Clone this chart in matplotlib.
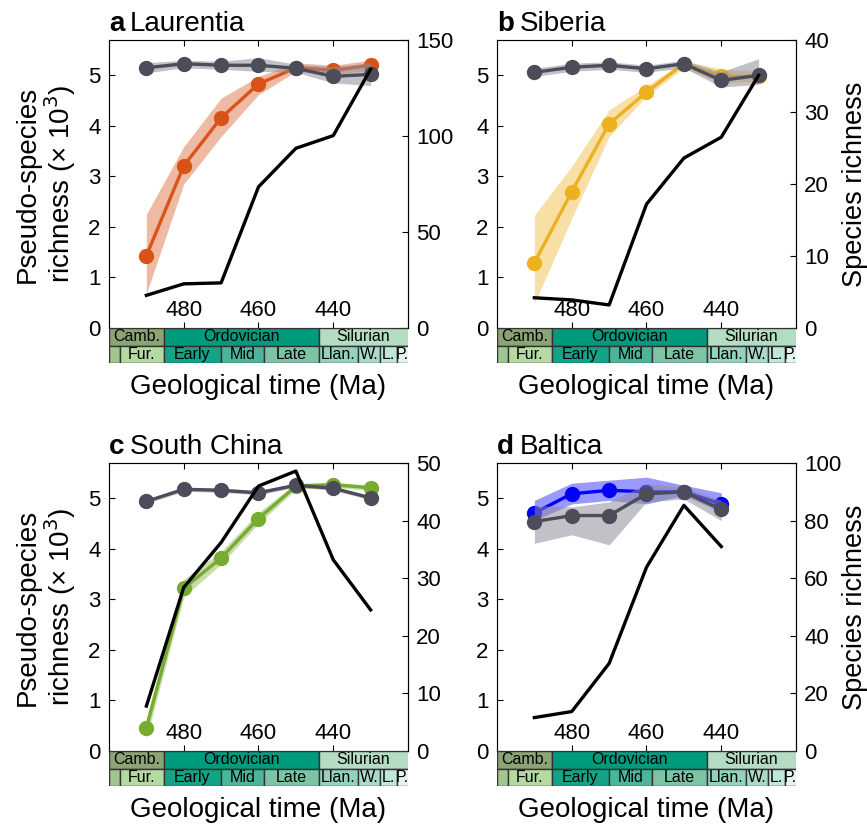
import numpy as np
import matplotlib.pyplot as plt
from matplotlib.patches import Rectangle

plt.rcParams['font.family'] = ['Liberation Sans', 'DejaVu Sans']

# time bins (Ma)
ages = [490, 480, 470, 460, 450, 440, 430]

# a Laurentia
lau_pseudo = [1.43, 3.21, 4.16, 4.83, 5.15, 5.10, 5.20]
lau_lo = [0.68, 2.85, 3.79, 4.62, 5.08, 5.02, 5.10]
lau_hi = [2.25, 3.59, 4.55, 4.98, 5.25, 5.20, 5.30]
lau_null = [5.15, 5.23, 5.20, 5.20, 5.14, 4.98, 5.02]
lau_null_lo = [5.05, 5.15, 5.12, 5.08, 5.06, 4.85, 4.80]
lau_null_hi = [5.25, 5.30, 5.28, 5.35, 5.22, 5.17, 5.25]
lau_species = [17, 23, 23.5, 73.5, 93.6, 100.2, 134.8]

# b Siberia
sib_pseudo = [1.29, 2.70, 4.04, 4.67, 5.23, 4.98, 4.98]
sib_lo = [0.48, 2.17, 3.79, 4.59, 5.15, 4.85, 4.88]
sib_hi = [2.23, 3.20, 4.32, 4.79, 5.28, 5.13, 5.08]
sib_null = [5.06, 5.16, 5.20, 5.13, 5.23, 4.90, 5.00]
sib_null_lo = [4.98, 5.08, 5.12, 5.06, 5.15, 4.77, 4.82]
sib_null_hi = [5.14, 5.24, 5.27, 5.20, 5.30, 5.07, 5.33]
sib_species = [4.2, 3.9, 3.2, 17.2, 23.6, 26.5, 35.1]

# c South China
sch_pseudo = [0.46, 3.22, 3.82, 4.60, 5.24, 5.27, 5.21]
sch_lo = [0.25, 3.05, 3.70, 4.50, 5.18, 5.22, 5.16]
sch_hi = [0.65, 3.40, 3.95, 4.72, 5.30, 5.32, 5.26]
sch_null = [4.94, 5.18, 5.16, 5.11, 5.26, 5.20, 5.01]
sch_null_lo = [4.90, 5.14, 5.12, 5.07, 5.22, 5.16, 4.97]
sch_null_hi = [4.98, 5.22, 5.20, 5.15, 5.30, 5.24, 5.05]
sch_species = [7.8, 28.4, 36.2, 46.0, 48.6, 33.2, 24.5]

# d Baltica (no 430 Ma bin)
bal_ages = [490, 480, 470, 460, 450, 440]
bal_pseudo = [4.71, 5.09, 5.16, 5.13, 5.13, 4.89]
bal_lo = [4.56, 4.89, 4.96, 4.89, 5.06, 4.73]
bal_hi = [4.96, 5.30, 5.36, 5.42, 5.26, 5.11]
bal_null = [4.54, 4.66, 4.66, 5.09, 5.13, 4.78]
bal_null_lo = [4.11, 4.28, 4.08, 4.93, 4.99, 4.56]
bal_null_hi = [4.86, 4.83, 4.93, 5.29, 5.22, 4.96]
bal_species = [11.6, 13.7, 30.4, 63.8, 85.3, 71.0]

# geological timescale
period_names = ['Camb.', 'Ordovician', 'Silurian']
period_bounds = [(500, 485.4), (485.4, 443.8), (443.8, 419.2)]
period_colors = ['#8aa475', '#009b7d', '#b4dcc2']
epoch_names = ['', 'Fur.', 'Early', 'Mid', 'Late', 'Llan.', 'W.', 'L.', 'P.']
epoch_bounds = [(500, 497), (497, 485.4), (485.4, 470), (470, 458.4), (458.4, 443.8),
                (443.8, 433.4), (433.4, 427.4), (427.4, 423), (423, 419.2)]
epoch_colors = ['#9fc68c', '#b5d9a3', '#14a386', '#4cb49a', '#7dc4a6',
                '#95d2bb', '#abdbc8', '#c0e6dc', '#e4f4ec']

gray = '#4c4c5a'
W, H = 867, 827

panels = [
    dict(letter='a', name='Laurentia', x=ages, y=lau_pseudo, lo=lau_lo, hi=lau_hi,
         n=lau_null, nlo=lau_null_lo, nhi=lau_null_hi, sp=lau_species,
         col='#d95319', ymax2=150, ticks2=[0, 50, 100, 150], pos=(109, 40), lab_l=True, lab_r=False),
    dict(letter='b', name='Siberia', x=ages, y=sib_pseudo, lo=sib_lo, hi=sib_hi,
         n=sib_null, nlo=sib_null_lo, nhi=sib_null_hi, sp=sib_species,
         col='#edb120', ymax2=40, ticks2=[0, 10, 20, 30, 40], pos=(497, 40), lab_l=False, lab_r=True),
    dict(letter='c', name='South China', x=ages, y=sch_pseudo, lo=sch_lo, hi=sch_hi,
         n=sch_null, nlo=sch_null_lo, nhi=sch_null_hi, sp=sch_species,
         col='#77ac30', ymax2=50, ticks2=[0, 10, 20, 30, 40, 50], pos=(109, 463), lab_l=True, lab_r=False),
    dict(letter='d', name='Baltica', x=bal_ages, y=bal_pseudo, lo=bal_lo, hi=bal_hi,
         n=bal_null, nlo=bal_null_lo, nhi=bal_null_hi, sp=bal_species,
         col='#0000ff', ymax2=100, ticks2=[0, 20, 40, 60, 80, 100], pos=(497, 463), lab_l=False, lab_r=True),
]

fig = plt.figure(figsize=(8.67, 8.27), dpi=100)

for p in panels:
    x0, y0 = p['pos']
    ax = fig.add_axes([x0 / W, 1 - (y0 + 288) / H, 299 / W, 288 / H])
    ax.fill_between(p['x'], p['lo'], p['hi'], color=p['col'], alpha=0.4, lw=0, zorder=1)
    ax.plot(p['x'], p['y'], '-o', color=p['col'], lw=2.4, ms=10, zorder=2)
    ax.fill_between(p['x'], p['nlo'], p['nhi'], color='#8e8e99', alpha=0.55, lw=0, zorder=3)
    ax.plot(p['x'], p['n'], '-o', color=gray, lw=2.4, ms=10, zorder=4)
    ax.set_xlim(500, 420)
    ax.set_ylim(0, 5.7)
    ax.set_xticks([480, 460, 440])
    ax.set_yticks([0, 1, 2, 3, 4, 5])
    ax.tick_params(axis='x', direction='in', top=True, bottom=True, length=4,
                   pad=-20, labelsize=16)
    ax.tick_params(axis='y', direction='in', length=4, pad=6, labelsize=16)
    for s in ['top', 'left', 'bottom']:
        ax.spines[s].set_color('#666666')
    if p['lab_l']:
        ax.set_ylabel('Pseudo-species\nrichness (× 10$^{3}$)', fontsize=20, linespacing=1.05)
        ax.yaxis.set_label_coords(-0.105, 0.5)

    ax2 = ax.twinx()
    ax2.plot(p['x'], p['sp'], color='black', lw=2.4, zorder=5)
    ax2.set_ylim(0, p['ymax2'])
    ax2.set_yticks(p['ticks2'])
    ax2.tick_params(axis='y', direction='in', length=4, pad=6, labelsize=16)
    ax2.spines['right'].set_color('black')
    if p['lab_r']:
        ax2.set_ylabel('Species richness', fontsize=19.5)
        ax2.yaxis.set_label_coords(1.155, 0.5)

    t = ax.text(0, 1.03, p['letter'], transform=ax.transAxes, fontsize=20,
                fontweight='bold', va='baseline', ha='left')
    ax.annotate(p['name'], xy=(1, 0), xycoords=t, xytext=(4, 0),
                textcoords='offset points', fontsize=20, va='bottom', ha='left')

    # timescale strip under the axes
    ts = fig.add_axes([x0 / W, 1 - (y0 + 288 + 35) / H, 299 / W, 35 / H])
    ts.set_xlim(500, 420)
    ts.set_ylim(0, 2)
    for (a0, a1), name, c in zip(period_bounds, period_names, period_colors):
        ts.add_patch(Rectangle((a1, 1), a0 - a1, 1, facecolor=c, edgecolor='#333333', lw=1))
        ts.text((max(min(a0, 500), 420) + max(a1, 420)) / 2, 1.5, name, ha='center',
                va='center', fontsize=11.5)
    for (a0, a1), name, c in zip(epoch_bounds, epoch_names, epoch_colors):
        ts.add_patch(Rectangle((a1, 0), a0 - a1, 1, facecolor=c, edgecolor='#333333', lw=1))
        ts.text((a0 + max(a1, 420)) / 2, 0.5, name, ha='center', va='center', fontsize=11.5)
    ts.set_xticks([])
    ts.set_yticks([])
    for s in ts.spines.values():
        s.set_visible(False)
    ts.set_xlabel('Geological time (Ma)', fontsize=20, labelpad=8)

fig.savefig('out.png', dpi=100)
